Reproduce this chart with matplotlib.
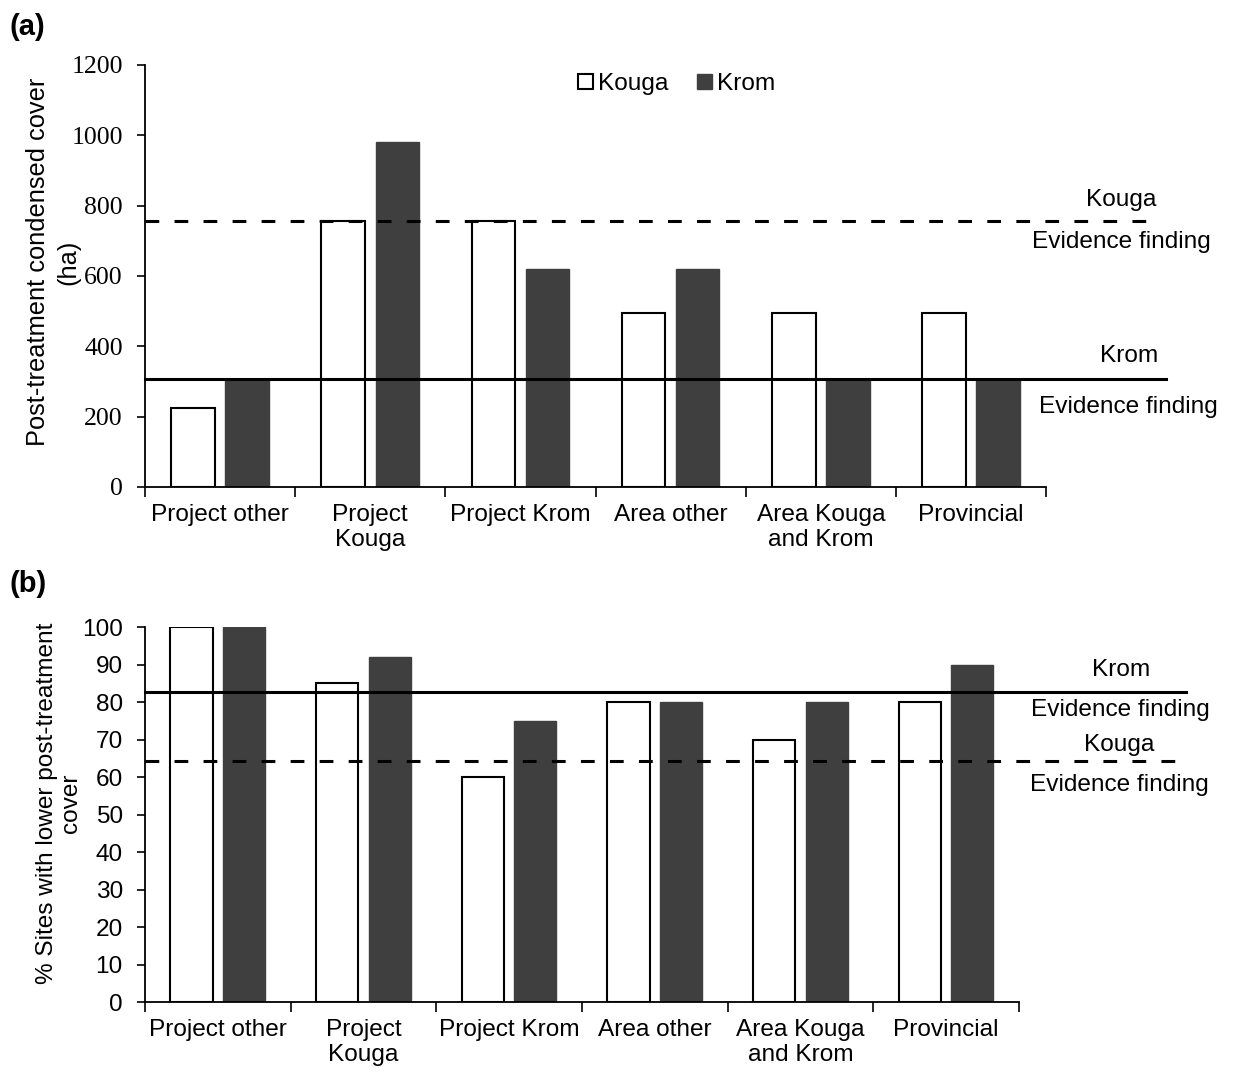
import numpy as np
import matplotlib
matplotlib.use("Agg")
import matplotlib.pyplot as plt

plt.rcParams['font.family'] = ['Liberation Sans', 'DejaVu Sans']

categories = ["Project other", "Project\nKouga", "Project Krom", "Area other",
              "Area Kouga\nand Krom", "Provincial"]

# panel (a): post-treatment condensed cover (ha)
cover_kouga = [225, 755, 755, 495, 495, 495]
cover_krom = [305, 980, 620, 620, 305, 305]
cover_ref_kouga = 757
cover_ref_krom = 307

# panel (b): % sites with lower post-treatment cover
pct_kouga = [100, 85, 60, 80, 70, 80]
pct_krom = [100, 92, 75, 80, 80, 90]
pct_ref_kouga = 64.3
pct_ref_krom = 82.7

dark = '#3f3f3f'
fs = 17.6

fig = plt.figure(figsize=(12.35, 10.74), dpi=100)
ax1 = fig.add_axes([0.1174, 0.5466, 0.7296, 0.3929])
ax2 = fig.add_axes([0.1174, 0.0670, 0.7076, 0.3492])

x = np.arange(len(categories))
w = 0.29
off = 0.18


def style_axes(ax, ylim, yticks, tick_font, tick_fs):
    ax.set_xlim(-0.5, len(categories) - 0.5)
    ax.set_ylim(*ylim)
    ax.set_yticks(yticks)
    for lab in ax.get_yticklabels():
        lab.set_fontfamily(tick_font)
    ax.spines['top'].set_visible(False)
    ax.spines['right'].set_visible(False)
    ax.spines['left'].set_linewidth(1.3)
    ax.spines['bottom'].set_linewidth(1.3)
    ax.set_xticks(np.arange(-0.5, len(categories)), labels=[])
    ax.set_xticks(x, labels=categories, minor=True)
    ax.tick_params(axis='x', which='major', length=7, width=1.2, direction='out')
    ax.tick_params(axis='x', which='minor', length=0, pad=12, labelsize=fs)
    ax.tick_params(axis='y', length=6, width=1.2, direction='out', labelsize=tick_fs, pad=10)


# ---- (a)
ax1.bar(x - off, cover_kouga, w, color='white', edgecolor='black', linewidth=1.5, label='Kouga', zorder=2)
ax1.bar(x + off, cover_krom, w, color=dark, edgecolor=dark, linewidth=1.0, label='Krom', zorder=2)
ax1.plot([-0.5, 6.2], [cover_ref_kouga] * 2, color='black', lw=2.2, ls=(0, (4.5, 5)), clip_on=False, zorder=3)
ax1.plot([-0.5, 6.3], [cover_ref_krom] * 2, color='black', lw=2.2, clip_on=False, zorder=3)
style_axes(ax1, (0, 1200), np.arange(0, 1201, 200), 'Liberation Serif', 18.5)
# two-line y label, drawn as two texts so the short second line sits between the ticks
ax1.text(-0.119, 0.533, "Post-treatment condensed cover", fontsize=18.3, rotation=90,
         ha='center', va='center', transform=ax1.transAxes)
ax1.text(-0.085, 0.533, "(ha)", fontsize=18.3, rotation=90,
         ha='center', va='center', transform=ax1.transAxes)
ax1.text(6.0, cover_ref_kouga + 29, "Kouga", fontsize=fs, ha='center', va='bottom', clip_on=False)
ax1.text(6.0, cover_ref_kouga - 30, "Evidence finding", fontsize=fs, ha='center', va='top', clip_on=False)
ax1.text(6.05, cover_ref_krom + 35, "Krom", fontsize=fs, ha='center', va='bottom', clip_on=False)
ax1.text(6.05, cover_ref_krom - 47, "Evidence finding", fontsize=fs, ha='center', va='top', clip_on=False)
ax1.legend(loc='center', bbox_to_anchor=(0.59, 0.955), ncol=2, frameon=False, fontsize=fs,
           handlelength=0.6, handleheight=0.6, handletextpad=0.2, columnspacing=1.2)

# ---- (b)
ax2.bar(x - off, pct_kouga, w, color='white', edgecolor='black', linewidth=1.5, zorder=2)
ax2.bar(x + off, pct_krom, w, color=dark, edgecolor=dark, linewidth=1.0, zorder=2)
ax2.plot([-0.5, 6.65], [pct_ref_kouga] * 2, color='black', lw=2.2, ls=(0, (4.5, 5)), clip_on=False, zorder=3)
ax2.plot([-0.5, 6.65], [pct_ref_krom] * 2, color='black', lw=2.2, clip_on=False, zorder=3)
style_axes(ax2, (0, 100), np.arange(0, 101, 10), 'Liberation Sans', fs)
ax2.set_ylabel("% Sites with lower post-treatment\ncover", fontsize=fs, linespacing=1.1)
ax2.yaxis.set_label_coords(-0.072, 0.53)
ax2.text(6.2, pct_ref_krom + 3.0, "Krom", fontsize=fs, ha='center', va='bottom', clip_on=False)
ax2.text(6.2, pct_ref_krom - 2.0, "Evidence finding", fontsize=fs, ha='center', va='top', clip_on=False)
ax2.text(6.19, pct_ref_kouga + 1.2, "Kouga", fontsize=fs, ha='center', va='bottom', clip_on=False)
ax2.text(6.19, pct_ref_kouga - 3.5, "Evidence finding", fontsize=fs, ha='center', va='top', clip_on=False)

fig.text(0.008, 0.988, "(a)", fontsize=21, fontweight='bold', va='top')
fig.text(0.008, 0.469, "(b)", fontsize=21, fontweight='bold', va='top')

fig.savefig("out.png", dpi=100, facecolor='white')
